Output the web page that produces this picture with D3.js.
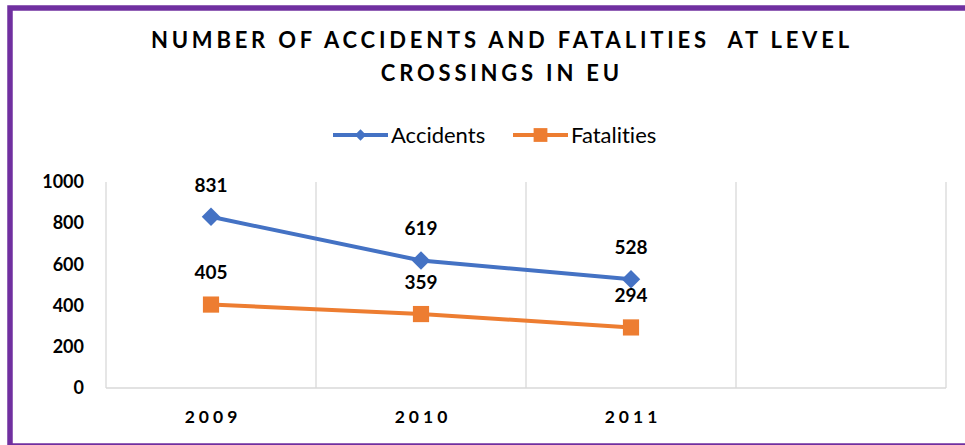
<!DOCTYPE html>
<html>
<head>
<meta charset="utf-8">
<script src="https://cdn.jsdelivr.net/npm/d3@7"></script>
<style>
    body { margin: 0; background: #fff; }
    svg { display: block; }
    text { font-family: Lato, 'Noto Sans', sans-serif; font-variant-ligatures: none; }
</style>
</head>
<body>
<div id="chart"></div>
<script>
// chart data
const years = ['2009', '2010', '2011', ''];
const accidents = [831, 619, 528];
const fatalities = [405, 359, 294];
const yTicks = [0, 200, 400, 600, 800, 1000];
const seriesNames = ['Accidents', 'Fatalities'];
const titleLines = ['NUMBER OF ACCIDENTS AND FATALITIES  AT LEVEL', 'CROSSINGS IN EU'];

const width = 965, height = 445;
const plot = { left: 106, right: 946, top: 182, bottom: 388 };
const colors = { Accidents: '#4472C4', Fatalities: '#ED7D31' };

const svg = d3.select('#chart').append('svg')
    .attr('width', width)
    .attr('height', height);

// purple chart frame (bottom edge is cut by the picture)
svg.append('rect')
    .attr('x', 10).attr('y', 8)
    .attr('width', 986).attr('height', 438)
    .attr('fill', '#fff')
    .attr('stroke', '#7030A0')
    .attr('stroke-width', 5.5);

// title
const titleSpacing = 3.8;
svg.append('g')
    .selectAll('text')
    .data(titleLines)
    .enter()
    .append('text')
    .attr('x', 500 + titleSpacing / 2)
    .attr('y', (d, i) => 40 + i * 33)
    .attr('dy', '0.36em')
    .attr('text-anchor', 'middle')
    .style('white-space', 'pre')
    .style('letter-spacing', titleSpacing + 'px')
    .attr('font-size', 22)
    .attr('font-weight', 'bold')
    .attr('fill', '#000')
    .text(d => d);

const x = d3.scaleBand()
    .domain(years)
    .range([plot.left, plot.right])
    .paddingInner(0);

const y = d3.scaleLinear()
    .domain([0, 1000])
    .range([plot.bottom, plot.top]);

// vertical gridlines between categories
const gridX = years.map(d => x(d)).concat([x.range()[1]]);
svg.append('g')
    .selectAll('line')
    .data(gridX)
    .enter()
    .append('line')
    .attr('x1', d => d).attr('x2', d => d)
    .attr('y1', y(1000)).attr('y2', y(0))
    .attr('stroke', '#d9d9d9')
    .attr('stroke-width', 1.3);

// category axis line
svg.append('line')
    .attr('x1', plot.left).attr('x2', plot.right)
    .attr('y1', y(0)).attr('y2', y(0))
    .attr('stroke', '#d9d9d9')
    .attr('stroke-width', 1.3);

// y axis labels
const yAxis = svg.append('g')
    .attr('transform', `translate(${plot.left},0)`)
    .call(d3.axisLeft(y).tickValues(yTicks).tickFormat(d3.format('d')).tickSize(0).tickPadding(22));
yAxis.select('.domain').remove();
yAxis.selectAll('text')
    .attr('font-family', 'Lato, sans-serif')
    .attr('font-size', 18)
    .attr('font-weight', 'bold')
    .attr('fill', '#000');

// x axis labels
const xSpacing = 4;
const xAxis = svg.append('g')
    .attr('transform', `translate(0,${plot.bottom})`)
    .call(d3.axisBottom(x).tickSize(0).tickPadding(0));
xAxis.select('.domain').remove();
xAxis.selectAll('text')
    .attr('x', xSpacing / 2)
    .attr('y', 28.7)
    .attr('dy', '0.36em')
    .attr('font-family', 'Lato, sans-serif')
    .attr('font-size', 17.5)
    .attr('font-weight', 'bold')
    .attr('fill', '#000')
    .style('letter-spacing', xSpacing + 'px');

// series
const series = [
    { name: 'Accidents', values: accidents },
    { name: 'Fatalities', values: fatalities }
];
const cx = i => x(years[i]) + x.bandwidth() / 2;

const line = d3.line()
    .x((d, i) => cx(i))
    .y(d => y(d));

const diamond = d3.symbol(d3.symbolSquare, 170);
const square = d3.symbol(d3.symbolSquare, 262);

series.forEach(s => {
    const g = svg.append('g');
    g.append('path')
        .datum(s.values)
        .attr('d', line)
        .attr('fill', 'none')
        .attr('stroke', colors[s.name])
        .attr('stroke-width', 4)
        .attr('stroke-linejoin', 'round');

    g.selectAll('path.marker')
        .data(s.values)
        .enter()
        .append('path')
        .attr('class', 'marker')
        .attr('d', s.name === 'Accidents' ? diamond : square)
        .attr('transform', (d, i) => `translate(${cx(i)},${y(d)})` + (s.name === 'Accidents' ? ' rotate(45)' : ''))
        .attr('fill', colors[s.name]);

    g.selectAll('text')
        .data(s.values)
        .enter()
        .append('text')
        .attr('x', (d, i) => cx(i))
        .attr('y', d => y(d) - 32)
        .attr('dy', '0.36em')
        .attr('text-anchor', 'middle')
        .attr('font-size', 19)
        .attr('font-weight', 'bold')
        .attr('fill', '#000')
        .text(d => d);
});

// legend
const legendX = [333, 513];
const legend = svg.append('g')
    .selectAll('g')
    .data(seriesNames)
    .enter()
    .append('g')
    .attr('transform', (d, i) => `translate(${legendX[i]},135)`);

legend.append('line')
    .attr('x1', 0).attr('x2', 55)
    .attr('y1', 0).attr('y2', 0)
    .attr('stroke', d => colors[d])
    .attr('stroke-width', 4);

legend.append('path')
    .attr('d', d => d === 'Accidents' ? d3.symbol(d3.symbolSquare, 64)() : d3.symbol(d3.symbolSquare, 190)())
    .attr('transform', d => 'translate(27.5,0)' + (d === 'Accidents' ? ' rotate(45)' : ''))
    .attr('fill', d => colors[d]);

legend.append('text')
    .attr('x', 58)
    .attr('dy', '0.36em')
    .attr('font-size', 22)
    .attr('fill', '#000')
    .text(d => d);
</script>
</body>
</html>
